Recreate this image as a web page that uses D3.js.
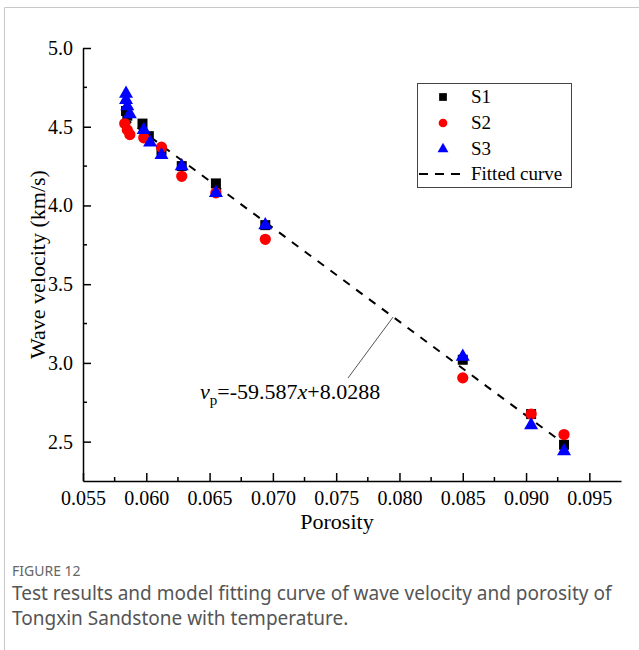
<!DOCTYPE html>
<html>
<head>
<meta charset="utf-8">
<script src="https://cdn.jsdelivr.net/npm/d3@7"></script>
<style>
  html, body { margin: 0; padding: 0; background: #fff; }
  svg { display: block; }
</style>
</head>
<body>
<svg id="chart" width="639" height="650"></svg>
<script>
// Porosity / wave velocity samples for three sandstone groups
const s1Porosity = [0.0584, 0.0585, 0.0597, 0.0602, 0.0612, 0.0628, 0.0655, 0.0694, 0.0850, 0.0904, 0.0930];
const s1Velocity = [4.60, 4.57, 4.52, 4.44, 4.35, 4.25, 4.14, 3.875, 3.02, 2.675, 2.48];

const s2Porosity = [0.0583, 0.0585, 0.0587, 0.0598, 0.0612, 0.0628, 0.0655, 0.0694, 0.0850, 0.0904, 0.0930];
const s2Velocity = [4.52, 4.48, 4.45, 4.43, 4.37, 4.185, 4.08, 3.785, 2.905, 2.675, 2.545];

const s3Porosity = [0.0584, 0.0584, 0.0585, 0.0587, 0.0598, 0.0603, 0.0612, 0.0628, 0.0655, 0.0694, 0.0850, 0.0904, 0.0930];
const s3Velocity = [4.71, 4.67, 4.63, 4.58, 4.48, 4.40, 4.32, 4.25, 4.08, 3.875, 3.04, 2.605, 2.44];

// Linear fit vp = slope * x + intercept
const fitSlope = -59.587;
const fitIntercept = 8.0288;
const fitRange = [0.0583, 0.0928];

const xTicks = [0.055, 0.060, 0.065, 0.070, 0.075, 0.080, 0.085, 0.090, 0.095];
const yTicks = [2.5, 3.0, 3.5, 4.0, 4.5, 5.0];
const seriesNames = ["S1", "S2", "S3"];

const svg = d3.select("#chart");
const serif = "Liberation Serif, Times New Roman, serif";

// card frame (left and top edges)
svg.append("path")
  .attr("d", "M4.5,650 V7.5 H639")
  .attr("fill", "none")
  .attr("stroke", "#c8c8c8")
  .attr("stroke-width", 1);

const plot = { left: 83, right: 621, top: 48, bottom: 481 };

const x = d3.scaleLinear().domain([0.055, 0.0975]).range([plot.left, plot.right]);
const y = d3.scaleLinear().domain([2.25, 5.0]).range([plot.bottom, plot.top]);

// axes with inward ticks
const xMinor = d3.range(0.0575, 0.0975, 0.005);
const yMinor = d3.range(2.75, 5.0, 0.5);

const xAxis = svg.append("g").attr("transform", `translate(0,${plot.bottom})`);
xAxis.call(d3.axisBottom(x).tickValues(xTicks).tickFormat(d3.format(".3f"))
  .tickSizeInner(-8).tickSizeOuter(0).tickPadding(10));
xAxis.append("g").selectAll("line").data(xMinor).join("line")
  .attr("x1", d => x(d)).attr("x2", d => x(d))
  .attr("y1", 0).attr("y2", -4)
  .attr("stroke", "#000").attr("stroke-width", 1.5);

const yAxis = svg.append("g").attr("transform", `translate(${plot.left},0)`);
yAxis.call(d3.axisLeft(y).tickValues(yTicks).tickFormat(d3.format(".1f"))
  .tickSizeInner(-8).tickSizeOuter(0).tickPadding(10));
yAxis.append("g").selectAll("line").data(yMinor).join("line")
  .attr("y1", d => y(d)).attr("y2", d => y(d))
  .attr("x1", 0).attr("x2", 4)
  .attr("stroke", "#000").attr("stroke-width", 1.5);

[xAxis, yAxis].forEach(g => {
  g.attr("font-family", serif).attr("font-size", 20);
  g.select(".domain").attr("stroke", "#000").attr("stroke-width", 1.5);
  g.selectAll(".tick line").attr("stroke", "#000").attr("stroke-width", 1.5);
  g.selectAll(".tick text").attr("fill", "#000")
    .attr("font-family", serif).attr("font-size", 20);
});

// axis titles
svg.append("text")
  .attr("x", (plot.left + plot.right) / 2 - 15)
  .attr("y", 529)
  .attr("text-anchor", "middle")
  .attr("font-family", serif).attr("font-size", 22)
  .text("Porosity");

svg.append("text")
  .attr("transform", `translate(45,${(plot.top + plot.bottom) / 2}) rotate(-90)`)
  .attr("text-anchor", "middle")
  .attr("font-family", serif).attr("font-size", 22)
  .text("Wave velocity (km/s)");

// fitted line
const fitPts = fitRange.map(p => [p, fitSlope * p + fitIntercept]);
svg.append("line")
  .attr("x1", x(fitPts[0][0])).attr("y1", y(fitPts[0][1]))
  .attr("x2", x(fitPts[1][0])).attr("y2", y(fitPts[1][1]))
  .attr("stroke", "#000").attr("stroke-width", 2)
  .attr("stroke-dasharray", "8,8");

// markers
const symSquare = d3.symbol().type(d3.symbolSquare);
const symCircle = d3.symbol().type(d3.symbolCircle);
const symTriangle = d3.symbol().type(d3.symbolTriangle);

const series = [
  { px: s1Porosity, vy: s1Velocity, color: "#000000", sym: symSquare, size: 100 },
  { px: s2Porosity, vy: s2Velocity, color: "#ff0000", sym: symCircle, size: 100 },
  { px: s3Porosity, vy: s3Velocity, color: "#0000ff", sym: symTriangle, size: 85 }
];

series.forEach(s => {
  svg.append("g").selectAll("path")
    .data(s.px.map((p, i) => [p, s.vy[i]]))
    .join("path")
    .attr("transform", d => `translate(${x(d[0])},${y(d[1])})`)
    .attr("d", s.sym.size(s.size)())
    .attr("fill", s.color);
});

// equation annotation with leader line
const annX = 0.0795;
svg.append("line")
  .attr("x1", x(annX)).attr("y1", y(fitSlope * annX + fitIntercept))
  .attr("x2", 348).attr("y2", 378)
  .attr("stroke", "#555").attr("stroke-width", 1);

const eq = svg.append("text")
  .attr("x", 200).attr("y", 399)
  .attr("font-family", serif).attr("font-size", 22);
eq.append("tspan").attr("font-style", "italic").text("v");
eq.append("tspan").attr("dy", 6).attr("font-size", 15).text("p");
eq.append("tspan").attr("dy", -6).text("=-59.587");
eq.append("tspan").attr("font-style", "italic").text("x");
eq.append("tspan").text("+8.0288");

// legend
const legend = svg.append("g");
legend.append("rect")
  .attr("x", 417.5).attr("y", 83.5).attr("width", 154).attr("height", 104)
  .attr("fill", "#fff").attr("stroke", "#444").attr("stroke-width", 1);

const legendRows = [97, 123, 149];
series.forEach((s, i) => {
  legend.append("path")
    .attr("transform", `translate(443,${legendRows[i]})`)
    .attr("d", s.sym.size(s.size * 0.6)())
    .attr("fill", s.color);
  legend.append("text")
    .attr("x", 471).attr("y", legendRows[i] + 6)
    .attr("font-family", serif).attr("font-size", 19)
    .text(seriesNames[i]);
});
legend.append("line")
  .attr("x1", 419).attr("x2", 465).attr("y1", 174).attr("y2", 174)
  .attr("stroke", "#000").attr("stroke-width", 2)
  .attr("stroke-dasharray", "9,7");
legend.append("text")
  .attr("x", 471).attr("y", 180)
  .attr("font-family", serif).attr("font-size", 19)
  .text("Fitted curve");

// caption
const sans = "Noto Sans, Open Sans, sans-serif";
svg.append("text")
  .attr("x", 12).attr("y", 576)
  .attr("font-family", sans).attr("font-size", 14)
  .attr("fill", "#666")
  .text("FIGURE 12");
svg.append("text")
  .attr("x", 12).attr("y", 600)
  .attr("font-family", sans).attr("font-size", 19)
  .attr("fill", "#555")
  .text("Test results and model fitting curve of wave velocity and porosity of");
svg.append("text")
  .attr("x", 12).attr("y", 625)
  .attr("font-family", sans).attr("font-size", 19)
  .attr("fill", "#555")
  .text("Tongxin Sandstone with temperature.");
</script>
</body>
</html>
